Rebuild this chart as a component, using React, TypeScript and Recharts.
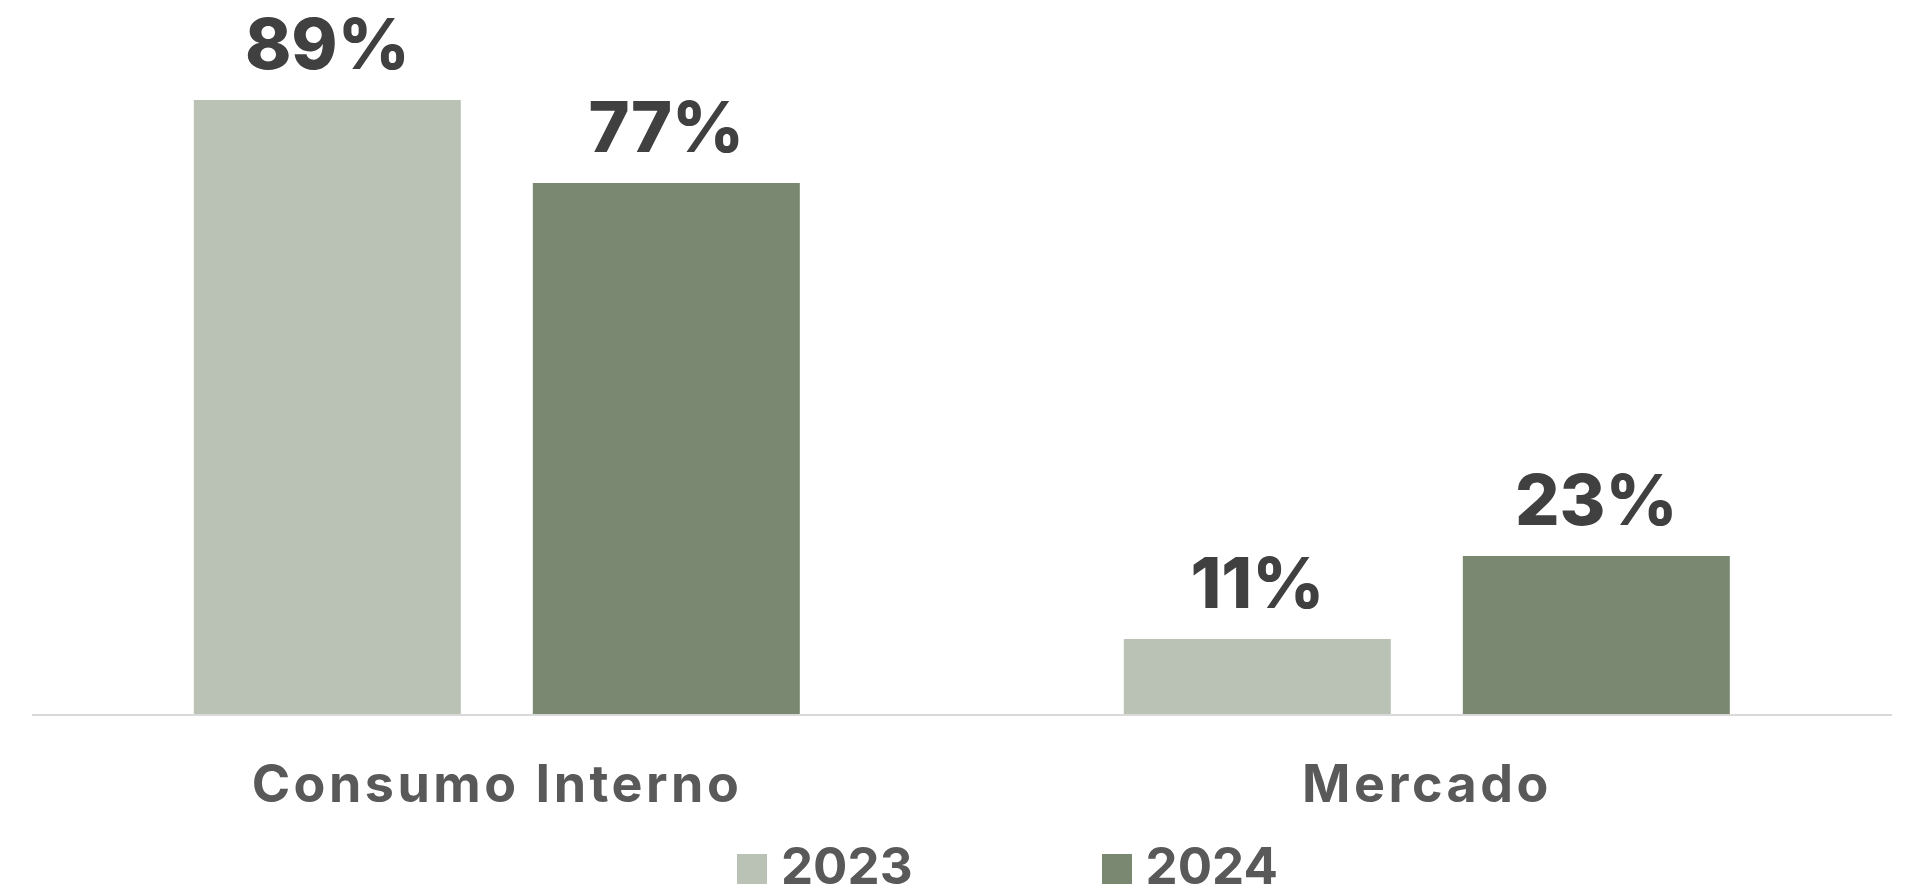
import { BarChart, Bar, XAxis, YAxis, Legend, LabelList } from 'recharts';

const categories = ['Consumo Interno', 'Mercado'];
const values2023 = [89, 11];
const values2024 = [77, 23];
const seriesNames = ['2023', '2024'];

const COLOR_2023 = '#B9C2B5';
const COLOR_2024 = '#7A8872';
const FONT = 'Inter, "Open Sans", sans-serif';

const data = categories.map((name, i) => ({
  name,
  y2023: values2023[i],
  y2024: values2024[i],
}));

function ValueLabel(props: any) {
  const { x, y, width, value } = props;
  return (
    <text
      x={x + width / 2}
      y={y - 31}
      textAnchor="middle"
      fill="#404040"
      fontFamily={FONT}
      fontWeight={800}
      fontSize={70}
    >
      {value}%
    </text>
  );
}

function CategoryTick(props: any) {
  const { x, y, payload } = props;
  return (
    <text
      x={x}
      y={y + 87}
      textAnchor="middle"
      fill="#595959"
      fontFamily={FONT}
      fontWeight={700}
      fontSize={52}
      letterSpacing={3.5}
    >
      {payload.value}
    </text>
  );
}

function LegendContent() {
  const colors = [COLOR_2023, COLOR_2024];
  return (
    <div style={{ display: 'flex', alignItems: 'flex-end', paddingLeft: 737, height: 52 }}>
      {seriesNames.map((s, i) => (
        <div
          key={s}
          style={{ display: 'flex', alignItems: 'flex-end', gap: 14, marginRight: i === 0 ? 189 : 0 }}
        >
          <div style={{ width: 30, height: 30, background: colors[i], marginBottom: 8 }} />
          <span
            style={{
              fontFamily: FONT,
              fontWeight: 700,
              fontSize: 51,
              color: '#595959',
              lineHeight: '52px',
            }}
          >
            {s}
          </span>
        </div>
      ))}
    </div>
  );
}

export default function App() {
  return (
    <div style={{ position: 'absolute', left: 0, top: 0, background: '#fff' }}>
      <BarChart
        width={1913}
        height={893}
        data={data}
        margin={{ top: 24, right: 21, bottom: 78, left: 32 }}
        barCategoryGap="17.4%"
        barGap={72}
      >
        <XAxis
          dataKey="name"
          height={100}
          tickLine={false}
          tickSize={0}
          tickMargin={0}
          axisLine={{ stroke: '#D9D9D9', strokeWidth: 2 }}
          tick={<CategoryTick />}
        />
        <YAxis hide domain={[0, 100]} />
        <Legend
          verticalAlign="middle"
          align="center"
          layout="horizontal"
          wrapperStyle={{ top: 840, left: 0, width: 1913 }}
          content={<LegendContent />}
        />
        <Bar dataKey="y2023" name="2023" fill={COLOR_2023} isAnimationActive={false}>
          <LabelList dataKey="y2023" content={<ValueLabel />} />
        </Bar>
        <Bar dataKey="y2024" name="2024" fill={COLOR_2024} isAnimationActive={false}>
          <LabelList dataKey="y2024" content={<ValueLabel />} />
        </Bar>
      </BarChart>
    </div>
  );
}
